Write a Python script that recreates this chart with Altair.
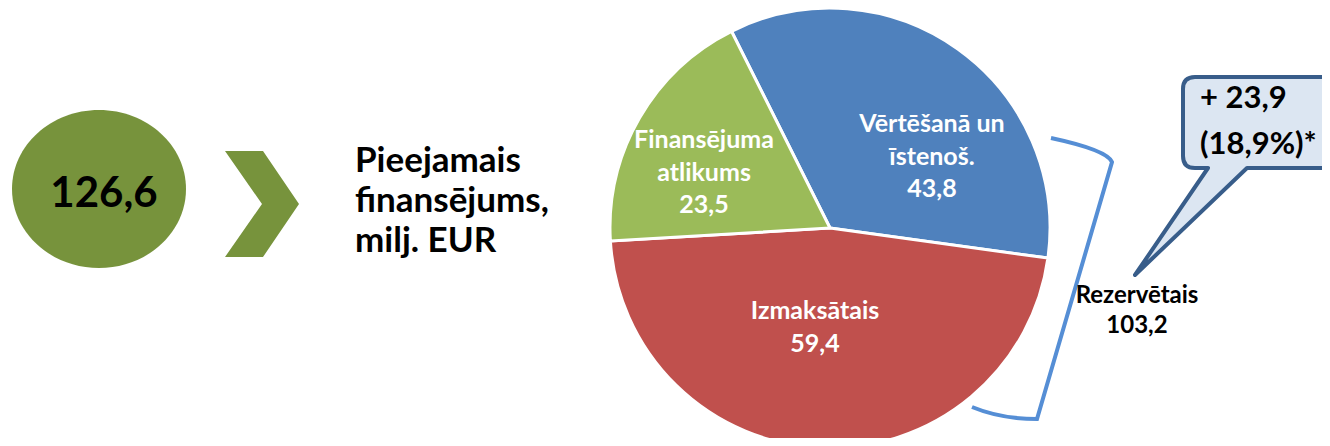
import math
import altair as alt
import pandas as pd

# ---- data ----
categories = ["Vērtēšanā un\nīstenoš.", "Izmaksātais", "Finansējuma\natlikums"]
values = [43.8, 59.4, 23.5]
colors = ["#4F81BD", "#C0504D", "#9BBB59"]
total_available = 126.6
title_lines = ["Pieejamais", "finansējums,", "milj. EUR"]
reserved_label = "Rezervētais"
reserved_value = 103.2
increase_value = 23.9
increase_pct = 18.9


def fmt(v):
    return f"{v:.1f}".replace(".", ",")


df = pd.DataFrame({"category": categories, "value": values, "order": list(range(len(values)))})
df["label"] = [f"{c}\n{fmt(v)}" for c, v in zip(categories, values)]
one = pd.DataFrame({"k": [0]})

FONT = "Lato"
START = -math.radians(26.6)

pie = alt.Chart(df).mark_arc(stroke="white", strokeWidth=3, outerRadius=220).encode(
    theta=alt.Theta("value:Q", stack=True, scale=alt.Scale(range=[START, START + 2 * math.pi])),
    color=alt.Color("category:N", scale=alt.Scale(domain=categories, range=colors), legend=None),
    order=alt.Order("order:Q"),
    x=alt.value(822),
    y=alt.value(220),
)


def slice_label(i, x, y):
    return alt.Chart(df).transform_filter(alt.datum.order == i).mark_text(
        font=FONT, fontWeight="bold", fontSize=25, color="white", lineBreak="\n",
        lineHeight=32.5, align="center", baseline="alphabetic",
    ).encode(text="label:N", x=alt.value(x), y=alt.value(y))


lab_blue = slice_label(0, 924, 124)
lab_red = slice_label(1, 807, 311)
lab_green = slice_label(2, 696, 140)

ellipse_path = ("M -87 0 C -87 -43.63 -48.05 -79 0 -79 C 48.05 -79 87 -43.63 87 0 "
                "C 87 43.63 48.05 79 0 79 C -48.05 79 -87 43.63 -87 0 Z")
ellipse = alt.Chart(one).mark_point(
    shape=ellipse_path, size=4, filled=True, color="#77933C", opacity=1, strokeWidth=0
).encode(x=alt.value(91), y=alt.value(181))

chevron_path = "M -37 -53 L 1 -53 L 37 0 L 1 53 L -37 53 L 0 0 Z"
chevron = alt.Chart(one).mark_point(
    shape=chevron_path, size=4, filled=True, color="#77933C", opacity=1, strokeWidth=0
).encode(x=alt.value(254), y=alt.value(196))

total_text = alt.Chart(one).mark_text(
    font=FONT, fontWeight="bold", fontSize=42, color="black", align="center", baseline="alphabetic"
).encode(text=alt.value(fmt(total_available)), x=alt.value(96), y=alt.value(199))

title_text = alt.Chart(one).mark_text(
    font=FONT, fontWeight="bold", fontSize=35, color="black", align="left",
    baseline="alphabetic", lineHeight=40,
).encode(text=alt.value(title_lines), x=alt.value(347), y=alt.value(164))

bracket_path = "M 0 0 Q 56 12 61 24 L -14 281 Q -50 281 -79 269"
bracket = alt.Chart(one).mark_point(
    shape=bracket_path, size=4, filled=False, stroke="#558ED5", strokeWidth=4, opacity=1
).encode(x=alt.value(1043), y=alt.value(130))

reserved_text = alt.Chart(one).mark_text(
    font=FONT, fontWeight="bold", fontSize=24, color="black", align="center",
    baseline="alphabetic", lineHeight=30,
).encode(text=alt.value([reserved_label, fmt(reserved_value)]), x=alt.value(1129), y=alt.value(295))

callout_path = ("M 12 0 L 180 0 L 180 91 L 64 91 L -48 198 L 25 91 L 12 91 "
                "Q 0 91 0 79 L 0 12 Q 0 0 12 0 Z")
callout = alt.Chart(one).mark_point(
    shape=callout_path, size=4, filled=True, fill="#DCE6F2", stroke="#385D8A",
    strokeWidth=4, opacity=1, strokeJoin="round",
).encode(x=alt.value(1175), y=alt.value(69))

callout_text = alt.Chart(one).mark_text(
    font=FONT, fontWeight="bold", fontSize=31, color="black", align="left",
    baseline="alphabetic", lineHeight=46,
).encode(text=alt.value([f"+ {fmt(increase_value)}", f"({fmt(increase_pct)}%)*"]),
         x=alt.value(1192), y=alt.value(100))

chart = alt.layer(
    ellipse, chevron, total_text, title_text,
    pie, lab_blue, lab_red, lab_green,
    bracket, reserved_text, callout, callout_text,
).properties(
    width=1314, height=430, padding=0,
    autosize=alt.AutoSizeParams(type="none"),
    background="white",
).configure_view(stroke=None)

chart.save("out.html", embed_options={"renderer": "svg", "actions": False})
